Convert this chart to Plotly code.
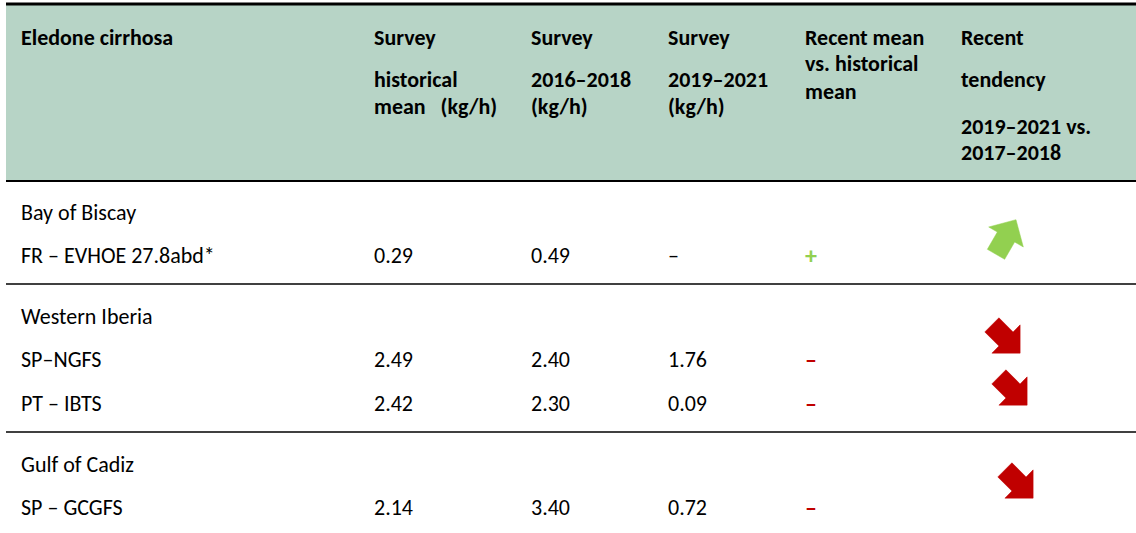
import math
import plotly.graph_objects as go

# table content
title = "Eledone cirrhosa"
headers = [
    ["Survey", "historical", "mean   (kg/h)"],
    ["Survey", "2016–2018", "(kg/h)"],
    ["Survey", "2019–2021", "(kg/h)"],
    ["Recent mean", "vs. historical", "mean"],
    ["Recent", "tendency", "2019–2021 vs.", "2017–2018"],
]
regions = ["Bay of Biscay", "Western Iberia", "Gulf of Cadiz"]
region_surveys = [["FR – EVHOE 27.8abd*"], ["SP–NGFS", "PT – IBTS"], ["SP – GCGFS"]]
hist_mean = ["0.29", "2.49", "2.42", "2.14"]
mean_1618 = ["0.49", "2.40", "2.30", "3.40"]
mean_1921 = ["–", "1.76", "0.09", "0.72"]
vs_hist = ["+", "–", "–", "–"]
tendency = ["up", "down", "down", "down"]

GREEN = "#92d050"
RED = "#c00000"
FONT = "Carlito, Calibri, Lato, sans-serif"
W, H = 1136, 533

col_x = [19, 372, 529, 666, 803, 959]
header_y = [[37, 79, 106], [37, 79, 106], [37, 79, 106], [37, 63, 91], [37, 79, 126, 152]]
region_y = [212, 316, 464]
row_y = [255, 359, 403, 507]
sep_y = [284, 432]
# arrow centre (middle of the head base) per row
arrow_xy = [(1006, 237), (1006, 339), (1013, 391), (1019, 484)]

fig = go.Figure()

shapes = [
    dict(type="rect", x0=6, x1=W, y0=4, y1=181, fillcolor="#b7d4c6", line_width=0, layer="below"),
    dict(type="line", x0=6, x1=W, y0=4, y1=4, line=dict(color="black", width=3)),
    dict(type="line", x0=6, x1=W, y0=181, y1=181, line=dict(color="black", width=2)),
]
for y in sep_y:
    shapes.append(dict(type="line", x0=6, x1=W, y0=y, y1=y, line=dict(color="black", width=1.3)))

ann = []


def txt(x, y, s, bold=False, color="black", size=22):
    ann.append(dict(x=x, y=y, text=f"<b>{s}</b>" if bold else s, showarrow=False,
                    xanchor="left", yanchor="middle", font=dict(family=FONT, size=size, color=color)))


txt(col_x[0], 37, title, bold=True)
for c, lines in enumerate(headers):
    for s, y in zip(lines, header_y[c]):
        txt(col_x[c + 1], y, s, bold=True)

k = 0
for r, reg in enumerate(regions):
    txt(col_x[0], region_y[r], reg)
    for sv in region_surveys[r]:
        y = row_y[k]
        txt(col_x[0], y, sv)
        txt(col_x[1], y, hist_mean[k])
        txt(col_x[2], y, mean_1618[k])
        txt(col_x[3], y, mean_1921[k])
        sign_col = GREEN if vs_hist[k] == "+" else RED
        txt(col_x[4], y, vs_hist[k], bold=True, color=sign_col, size=24)
        k += 1

# block arrows: local shape (along, across), rotated to direction
arrow_shape = [(-20, -10), (0, -10), (0, -20), (20, 0), (0, 20), (0, 10), (-20, 10), (-20, -10)]
for (cx, cy), t in zip(arrow_xy, tendency):
    ang = math.radians(60 if t == "up" else -45)
    ux, uy = math.cos(ang), -math.sin(ang)
    vx, vy = -uy, ux
    xs = [cx + a * ux + b * vx for a, b in arrow_shape]
    ys = [cy + a * uy + b * vy for a, b in arrow_shape]
    col = GREEN if t == "up" else RED
    fig.add_trace(go.Scatter(x=xs, y=ys, fill="toself", fillcolor=col, mode="lines",
                             line=dict(color=col, width=0.5), hoverinfo="skip", showlegend=False))

fig.update_layout(
    width=W, height=H, margin=dict(l=0, r=0, t=0, b=0),
    paper_bgcolor="white", plot_bgcolor="white",
    xaxis=dict(range=[0, W], visible=False, fixedrange=True),
    yaxis=dict(range=[H, 0], visible=False, fixedrange=True),
    shapes=shapes, annotations=ann, showlegend=False,
)
fig.write_html("out.html", config={"displayModeBar": False},
               post_script="document.body.style.margin='0';document.body.style.overflow='hidden';")
